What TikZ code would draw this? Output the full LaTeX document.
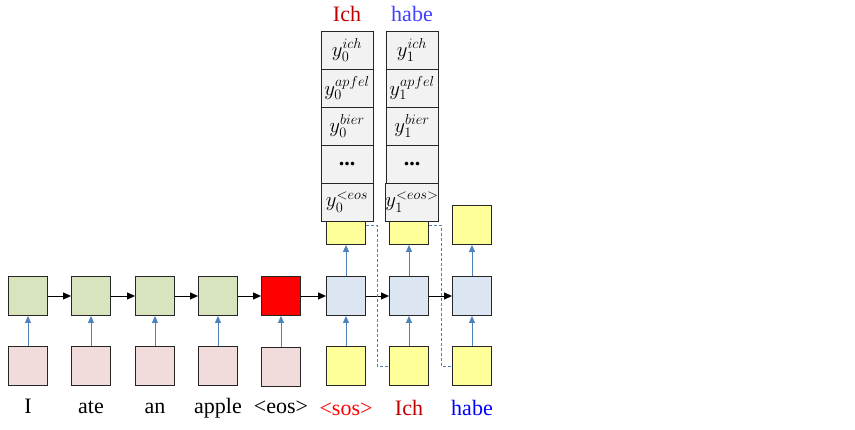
\documentclass[tikz,border=0pt]{standalone}
\usepackage{fontspec}
\setmainfont{Liberation Serif}
\usetikzlibrary{arrows.meta}
\definecolor{encgreen}{HTML}{D7E4BD}
\definecolor{inpink}{HTML}{F2DCDB}
\definecolor{decblue}{HTML}{DCE6F2}
\definecolor{outyellow}{HTML}{FFFF99}
\definecolor{cellgray}{HTML}{F2F2F2}
\definecolor{arrowblue}{HTML}{4F81BD}
\definecolor{wordred}{HTML}{C00000}
\definecolor{wordblue}{HTML}{0000FF}

\begin{document}
\begin{tikzpicture}[x=1pt,y=-1pt,
    box/.style={draw=black!85,line width=0.9pt,minimum size=39pt,inner sep=0pt},
    cell/.style={draw=black!85,line width=0.9pt,fill=cellgray,minimum width=52pt,
        minimum height=38pt,inner sep=0pt,font=\fontsize{22}{26}\selectfont},
    word/.style={font=\fontsize{22}{26}\selectfont,inner sep=0pt},
    uparrow/.style={draw=arrowblue,line width=0.8pt,-{Triangle[length=7pt,width=6pt]}},
    rightarrow/.style={draw=black,line width=0.8pt,-{Triangle[length=8pt,width=7pt]}}]

        \useasboundingbox (0,0) rectangle (855,430);

        \foreach \i/\x/\w in {1/28/I,2/91/ate,3/155/an,4/218/apple} {
        \node[box,fill=inpink] (in\i) at (\x,366) {};
        \node[box,fill=encgreen] (h\i) at (\x,296) {};
        \node[word,anchor=base] (w\i) at (\x,414) {\w};
        \draw[uparrow] (in\i) -- (h\i);
        }
        \node[box,fill=inpink] (in5) at (281,367) {};
        \node[box,fill=red] (h5) at (281,296) {};
        \node[word,anchor=base] (w5) at (281,414) {<eos>};
        \draw[uparrow] (in5) -- (h5);

        \foreach \i/\x/\w/\c in {1/346/<sos>/red,2/409/Ich/wordred,3/472/habe/wordblue} {
        \node[box,fill=outyellow] (x\i) at (\x,366) {};
        \node[box,fill=decblue] (d\i) at (\x,296) {};
        \node[box,fill=outyellow] (o\i) at (\x,225) {};
        \node[word,anchor=base,text=\c] (v\i) at (\x,416) {\w};
        \draw[uparrow] (x\i) -- (d\i);
        \draw[uparrow] (d\i) -- (o\i);
        }

        \foreach \a/\b in {h1/h2,h2/h3,h3/h4,h4/h5,h5/d1,d1/d2,d2/d3} {
        \draw[rightarrow] (\a) -- (\b);
        }

        \foreach \k/\x/\t/\c in {0/347/Ich/wordred,1/412/habe/wordblue!75} {
        \node[cell] (p\k a) at (\x,50) {$y_\k^{ich}$};
        \node[cell] (p\k b) at (\x,88) {$y_\k^{apfel}$};
        \node[cell] (p\k c) at (\x,126) {$y_\k^{bier}$};
        \node[cell] (p\k d) at (\x,164) {\textbf{...}};
        \node[word,anchor=base,text=\c] (t\k) at (\x,22) {\t};
        }
        \node[cell] (p0e) at (347,202) {$y_0^{<eos}$};
        \node[cell] (p1e) at (412,202) {$y_1^{<eos>}$};

        \coordinate (c1) at (377,366);
        \coordinate (c2) at (441,366);
        \draw[arrowblue,dash pattern=on 3pt off 2pt,line width=0.6pt] (o1.east) -| (c1) -- (x2.west);
        \draw[arrowblue,dash pattern=on 3pt off 2pt,line width=0.6pt] (o2.east) -| (c2) -- (x3.west);
    \end{tikzpicture}
\end{document}
